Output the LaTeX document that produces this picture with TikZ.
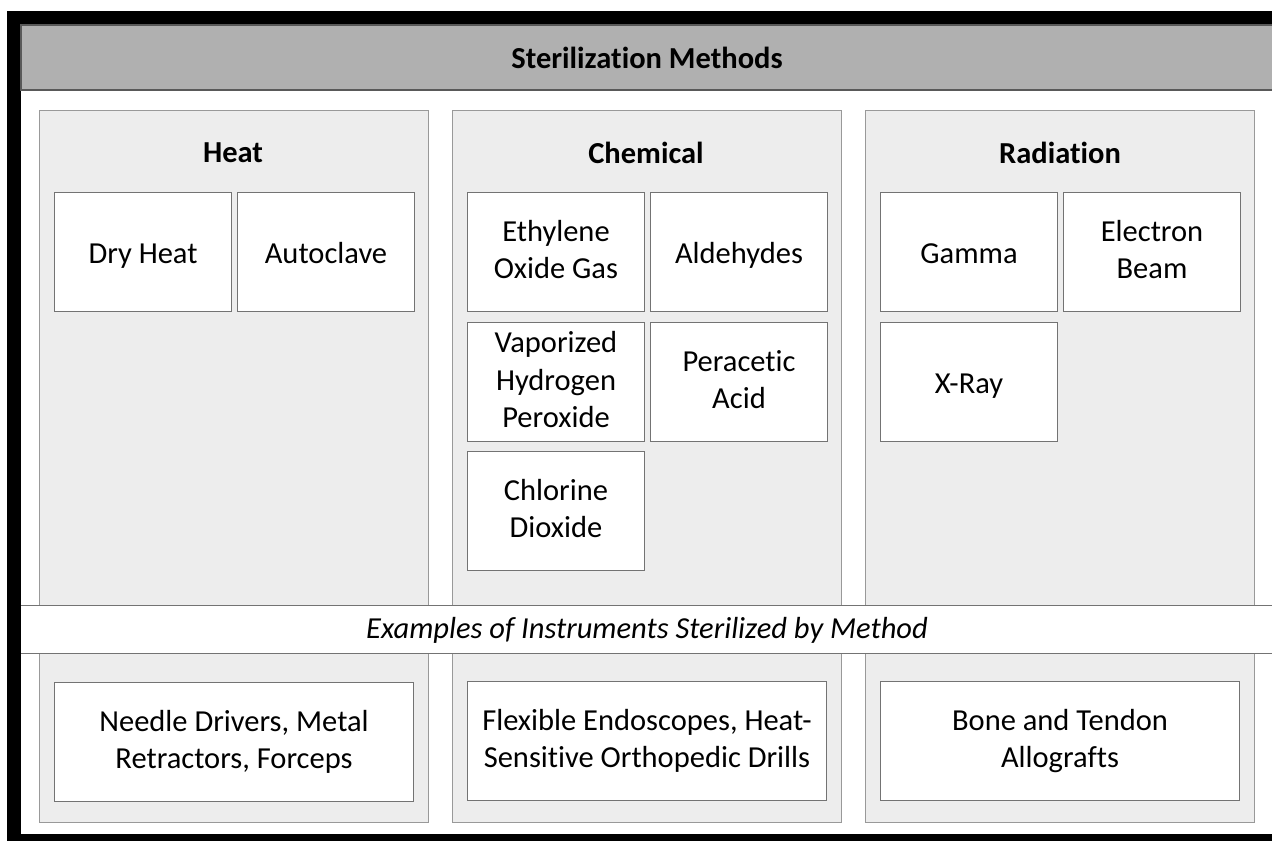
\documentclass[tikz,border=0pt]{standalone}
\usepackage{fontspec}
\setmainfont{Carlito}[Ligatures=NoCommon]
\newcommand{\boxstrut}{\rule[-5pt]{0pt}{33pt}}

\tikzset{
  panel/.style={draw=black!40, fill=black!7, line width=1pt, anchor=north west, minimum width=389pt, minimum height=712pt, inner sep=0pt},
  method/.style={draw=black!55, fill=white, line width=1pt, anchor=north west, minimum width=177pt, minimum height=119pt, align=center, inner sep=2pt, font=\fontsize{30.5}{37.5}\selectfont, execute at begin node=\boxstrut, execute at end node=\boxstrut},
  example/.style={method, minimum width=359pt},
  heading/.style={font=\fontsize{30.5}{38}\selectfont\bfseries}
}

\begin{document}
\begin{tikzpicture}[x=1pt,y=-1pt]
  \useasboundingbox (0,0) rectangle (1272,841);
  % frame and header
  \fill[black] (7,11) rectangle (1272,841);
  \fill[white] (21,25) rectangle (1272,834);
  \draw[fill=black!31, draw=black!65, line width=1.5pt] (21,25) rectangle (1274,90);
  \node[heading] (title) at (647,58) {Sterilization Methods};

  % columns
  \node[panel] (heat) at (39,110) {};
  \node[panel] (chem) at (452,110) {};
  \node[panel] (rad) at (865,110) {};
  \node[heading] (heatT) at (233,153) {Heat};
  \node[heading] (chemT) at (646,153) {Chemical};
  \node[heading] (radT) at (1060,153) {Radiation};

  % heat
  \node[method] (dry) at (54,192) {Dry Heat};
  \node[method] (auto) at (237,192) {Autoclave};

  % chemical
  \node[method] (eto) at (467,192) {Ethylene\\Oxide Gas};
  \node[method] (ald) at (650,192) {Aldehydes};
  \node[method] (vhp) at (467,322) {Vaporized\\Hydrogen\\Peroxide};
  \node[method] (paa) at (650,322) {Peracetic\\Acid};
  \node[method] (cld) at (467,451) {Chlorine\\Dioxide};

  % radiation
  \node[method] (gamma) at (880,192) {Gamma};
  \node[method] (ebeam) at (1063,192) {Electron\\Beam};
  \node[method] (xray) at (880,322) {X-Ray};

  % band across the columns
  \draw[fill=white, draw=black!55, line width=1pt] (21,605) -- (1274,605) -- (1274,653) -- (21,653);
  \fill[white] (21,606) rectangle (1274,652);
  \node[font=\fontsize{30.5}{38}\selectfont\itshape] (band) at (647,630) {Examples of Instruments Sterilized by Method};

  % examples
  \node[example] (exHeat) at (54,682) {Needle Drivers, Metal\\Retractors, Forceps};
  \node[example] (exChem) at (467,681) {Flexible Endoscopes, Heat-\\Sensitive Orthopedic Drills};
  \node[example] (exRad) at (880,681) {Bone and Tendon\\Allografts};
\end{tikzpicture}
\end{document}
